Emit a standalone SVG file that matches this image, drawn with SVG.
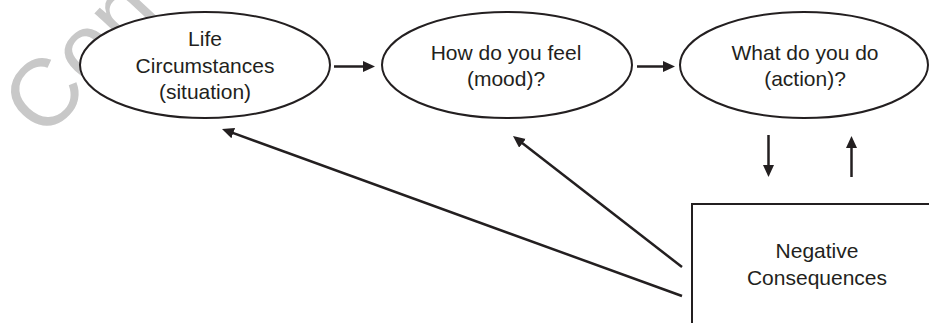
<svg xmlns="http://www.w3.org/2000/svg" width="929" height="323" viewBox="0 0 929 323">
<style>
.node{fill:#fff;stroke:#231f20;stroke-width:2}
.lbl{font-family:"Liberation Sans",Arial,sans-serif;font-size:21px;fill:#231f20;text-anchor:middle}
.conn{stroke:#231f20;stroke-width:2.5;fill:none}
.wm{font-family:"Liberation Sans",Arial,sans-serif;font-size:95px;fill:#c8c8c8}
</style>
<defs>
<marker id="ah" markerUnits="userSpaceOnUse" markerWidth="14" markerHeight="12" refX="2" refY="5.5" orient="auto">
<path d="M0,0 L12,5.5 L0,11 z" fill="#231f20"/>
</marker>
</defs>
<rect width="929" height="323" fill="#fff"/>
<text class="wm" transform="translate(44,141) rotate(-47)">Conv</text>
<g id="n-life">
<ellipse class="node" cx="205" cy="65" rx="125" ry="53"/>
<text class="lbl" x="205" y="46">Life</text>
<text class="lbl" x="205" y="72.5">Circumstances</text>
<text class="lbl" x="205" y="99">(situation)</text>
</g>
<g id="n-mood">
<ellipse class="node" cx="507" cy="65" rx="125" ry="53"/>
<text class="lbl" x="506" y="60">How do you feel</text>
<text class="lbl" x="506" y="86">(mood)?</text>
</g>
<g id="n-action">
<ellipse class="node" cx="804" cy="65" rx="124" ry="53"/>
<text class="lbl" x="805" y="60">What do you do</text>
<text class="lbl" x="805" y="86">(action)?</text>
</g>
<g id="n-neg">
<rect class="node" x="692" y="204" width="260" height="140"/>
<text class="lbl" x="817" y="258">Negative</text>
<text class="lbl" x="817" y="285">Consequences</text>
</g>
<g id="connectors">
<line class="conn" x1="334" y1="66.5" x2="365" y2="66.5" marker-end="url(#ah)"/>
<line class="conn" x1="637" y1="66.5" x2="665" y2="66.5" marker-end="url(#ah)"/>
<line class="conn" x1="768.5" y1="135" x2="768.5" y2="167" marker-end="url(#ah)"/>
<line class="conn" x1="851.5" y1="177" x2="851.5" y2="146" marker-end="url(#ah)"/>
<line class="conn" x1="682" y1="296" x2="231.4" y2="132.4" marker-end="url(#ah)"/>
<line class="conn" x1="682" y1="267" x2="520.9" y2="142.1" marker-end="url(#ah)"/>
</g>
</svg>
